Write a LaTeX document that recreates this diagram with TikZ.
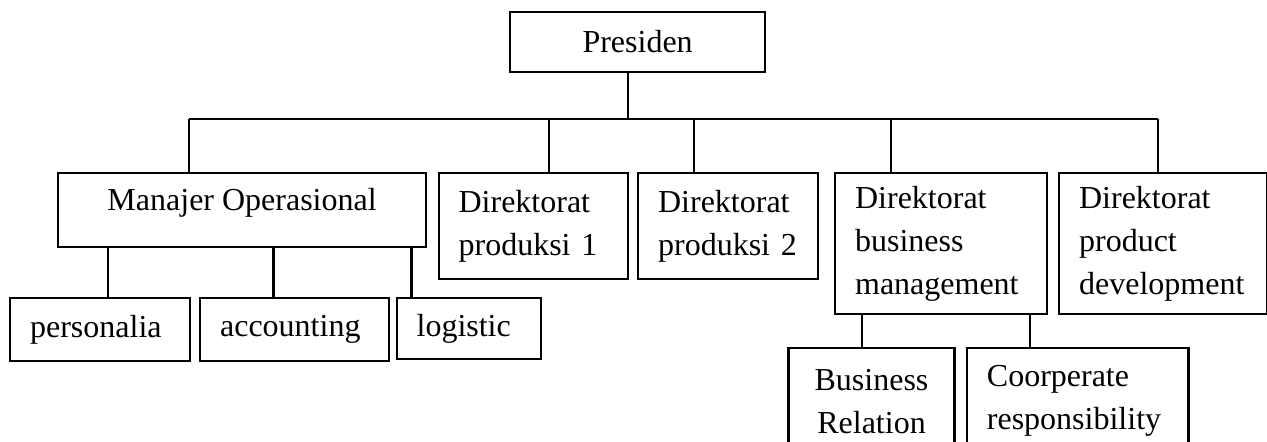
\documentclass[tikz,border=0pt]{standalone}
\usepackage{fontspec}
\setmainfont{Liberation Serif}
\begin{document}
\begin{tikzpicture}[
        x=0.5pt, y=-0.5pt,
        line width=1.1pt,
        unit/.style={draw, rectangle, anchor=north west, inner sep=0pt, font=\fontsize{16}{21.5}\selectfont},
        ctrbox/.style={unit, align=center},
        lftbox/.style={unit, align=left, inner xsep=10pt, text width=#1}
    ]
    \useasboundingbox (0,0) rectangle (1267,441);
    \clip (0,0) rectangle (1267,441);

    % top
    \node[ctrbox, minimum width=127.5pt, minimum height=30pt] (pres) at (509,10.7) {Presiden};

    % level 1
    \node[ctrbox, minimum width=184pt, minimum height=37pt, text depth=10.5pt] (manop) at (57,172) {Manajer Operasional};
    \node[lftbox=74.75pt, minimum height=53pt] (dirp1) at (437.5,172) {Direktorat\\produksi 1};
    \node[lftbox=70pt, minimum height=53pt] (dirp2) at (637,172) {Direktorat\\produksi 2};
    \node[lftbox=86pt, minimum height=70.5pt] (dirbm) at (834,172) {Direktorat\\business\\management};
    \node[lftbox=84pt, minimum height=70.5pt] (dirpd) at (1058,172) {Direktorat\\product\\development};

    % level 2
    \node[lftbox=70pt, minimum height=31.5pt] (pers) at (9,297) {personalia};
    \node[lftbox=74.5pt, minimum height=31.5pt] (acct) at (199,297) {accounting};
    \node[lftbox=52pt, minimum height=30.5pt] (logi) at (395.5,297) {logistic};
    \node[ctrbox, minimum width=83pt, minimum height=53pt] (bizrel) at (787.4,347) {Business\\Relation};
    \node[lftbox=90.8pt, minimum height=53pt] (corp) at (965.8,347) {Coorperate\\responsibility};

    % bus lines
    \coordinate (bus0) at (628,119);
    \coordinate (bus1) at (189,119);
    \coordinate (bus2) at (549,119);
    \coordinate (bus3) at (694,119);
    \coordinate (bus4) at (891,119);
    \coordinate (bus5) at (1158,119);
    \draw (pres.south -| bus0) -- (bus0);
    \draw (bus1) -- (bus5);
    \foreach \b/\n in {bus1/manop, bus2/dirp1, bus3/dirp2, bus4/dirbm, bus5/dirpd}
        \draw (\b) -- (\b |- \n.north);

    % sub units
    \coordinate (op1) at (108,250);
    \coordinate (op2) at (273.5,250);
    \coordinate (op3) at (411.4,250);
    \coordinate (bm1) at (861.7,320);
    \coordinate (bm2) at (1030,320);
    \foreach \c/\n in {op1/pers, op2/acct, op3/logi}
        \draw (\c |- manop.south) -- (\c |- \n.north);
    \foreach \c/\n in {bm1/bizrel, bm2/corp}
        \draw (\c |- dirbm.south) -- (\c |- \n.north);
\end{tikzpicture}
\end{document}
